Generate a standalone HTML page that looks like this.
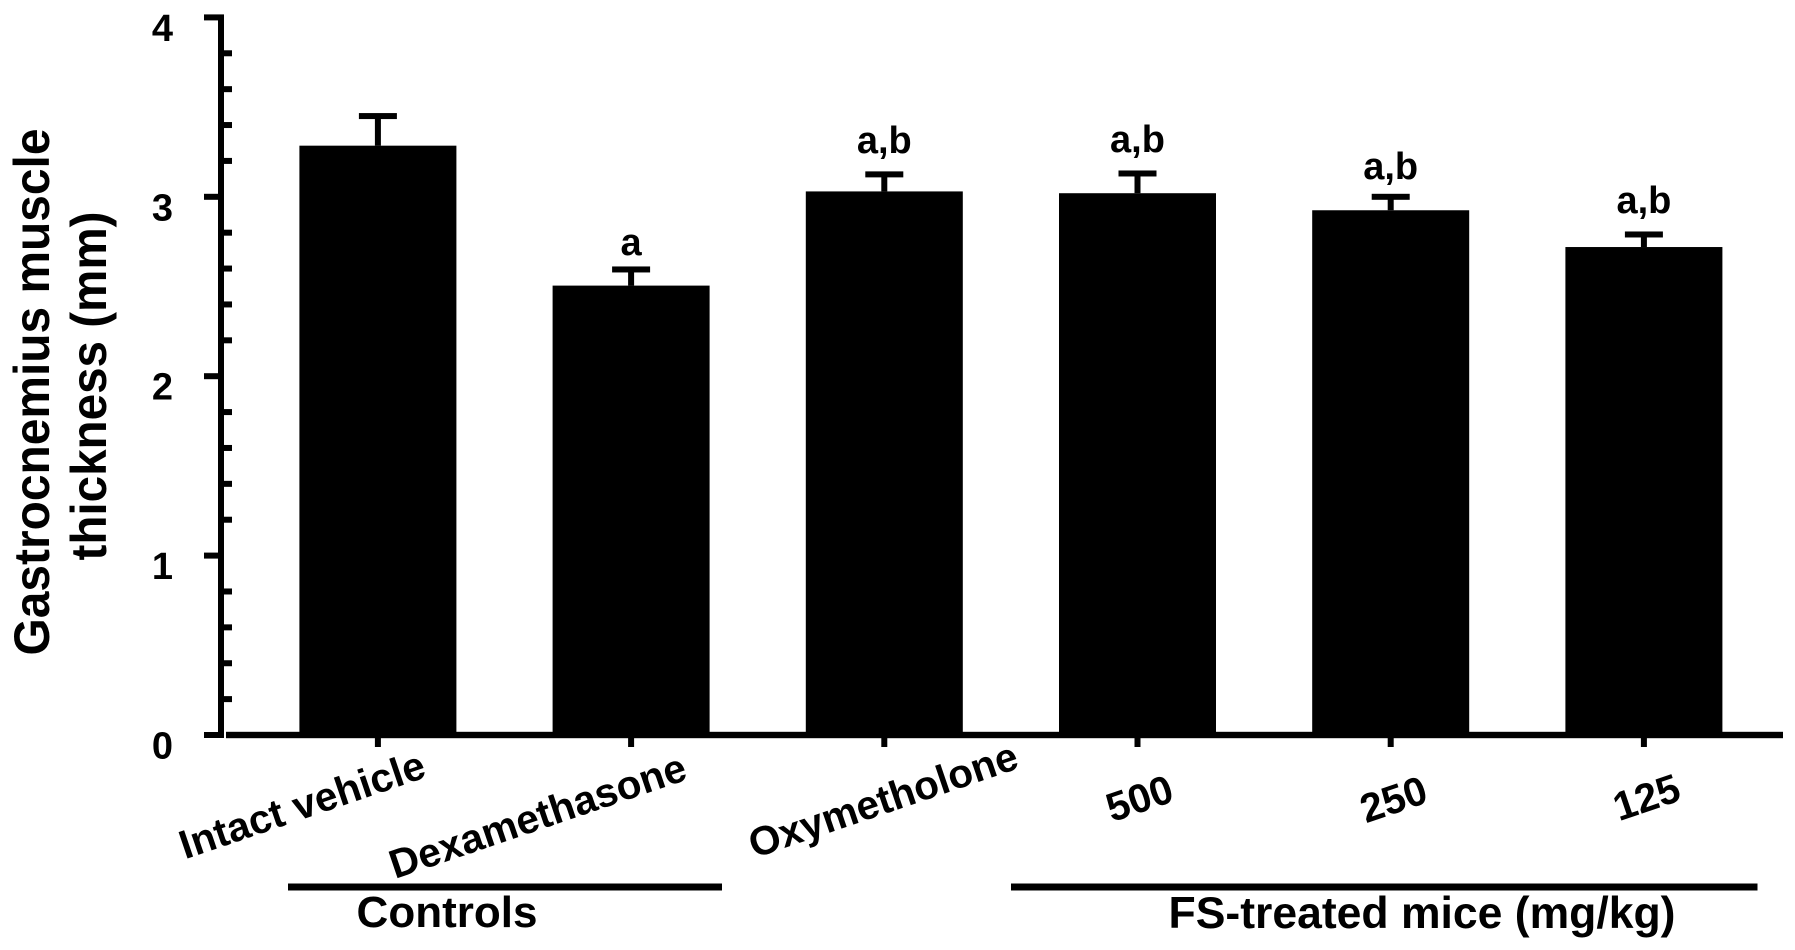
<!DOCTYPE html>
<html lang="en">
<head>
<meta charset="utf-8">
<title>Gastrocnemius muscle thickness</title>
<style>
  html, body { margin: 0; padding: 0; background: #fff; }
  body { width: 1795px; height: 950px; overflow: hidden; }
  svg { display: block; }
  text { font-family: "Liberation Sans", Arial, sans-serif; font-weight: 700; fill: #000; }
</style>
</head>
<body>
<svg id="chart" xmlns="http://www.w3.org/2000/svg" width="1795" height="950" viewBox="0 0 1795 950">
  <rect x="0" y="0" width="1795" height="950" fill="#fff"/>

  <g font-size="50">
    <text transform="translate(49,392) rotate(-90)" text-anchor="middle" textLength="527" lengthAdjust="spacingAndGlyphs">Gastrocnemius muscle</text>
    <text transform="translate(106,386) rotate(-90)" text-anchor="middle" textLength="349" lengthAdjust="spacingAndGlyphs">thickness (mm)</text>
  </g>

  <g id="bars"></g>
  <g id="errors"></g>
  <g id="annotations"></g>
  <g id="yaxis"></g>
  <g id="xaxis"></g>

  <g font-size="40.5" text-anchor="middle">
    <text transform="translate(306.5,818) rotate(-18.8)">Intact vehicle</text>
    <text transform="translate(542,829) rotate(-18.8)">Dexamethasone</text>
    <text transform="translate(887.5,813) rotate(-18.8)">Oxymetholone</text>
    <text transform="translate(1144,811.5) rotate(-18.8)">500</text>
    <text transform="translate(1398,812.5) rotate(-18.8)">250</text>
    <text transform="translate(1651,810.5) rotate(-18.8)">125</text>
  </g>

  <rect x="288" y="883.5" width="434" height="7" fill="#000"/>
  <rect x="1011" y="883.5" width="746.5" height="7" fill="#000"/>
  <text x="447" y="927" font-size="44" text-anchor="middle">Controls</text>
  <text x="1422" y="928" font-size="44.5" text-anchor="middle">FS-treated mice (mg/kg)</text>
</svg>

<script>
const categories = ["Intact vehicle", "Dexamethasone", "Oxymetholone", "500", "250", "125"];
const means = [3.285, 2.505, 3.03, 3.02, 2.925, 2.72];
const errors = [0.165, 0.09, 0.095, 0.11, 0.075, 0.07];
const annotations = ["", "a", "a,b", "a,b", "a,b", "a,b"];
const annotationGaps = [0, 0.08, 0.12, 0.12, 0.1, 0.12];
const yTicks = [0, 1, 2, 3, 4];
const yTickLabels = ["0", "1", "2", "3", "4"];
const minorPerMajor = 5;

const NS = "http://www.w3.org/2000/svg";
const Y0 = 735, UNIT = 179.4, X0 = 377.9, STEP = 253.2;
const BAR_W = 157, CAP_W = 38, CAP_H = 6, STEM_W = 6;
const yScale = v => Y0 - UNIT * v;
const xScale = i => X0 + STEP * i;

function rect(parent, x, y, w, h) {
  const r = document.createElementNS(NS, "rect");
  r.setAttribute("x", x);
  r.setAttribute("y", y);
  r.setAttribute("width", w);
  r.setAttribute("height", h);
  r.setAttribute("fill", "#000");
  parent.appendChild(r);
  return r;
}

function label(parent, x, y, size, str) {
  const t = document.createElementNS(NS, "text");
  t.setAttribute("x", x);
  t.setAttribute("y", y);
  t.setAttribute("font-size", size);
  t.setAttribute("text-anchor", "middle");
  t.textContent = str;
  parent.appendChild(t);
  return t;
}

const barsG = document.getElementById("bars");
const errG = document.getElementById("errors");
const annG = document.getElementById("annotations");
const yG = document.getElementById("yaxis");
const xG = document.getElementById("xaxis");

categories.forEach((cat, i) => {
  const cx = xScale(i);
  const top = yScale(means[i]);
  const capV = means[i] + errors[i];
  const capY = yScale(capV);

  const bar = rect(barsG, cx - BAR_W / 2, top, BAR_W, Y0 - top);
  
  

  const stem = rect(errG, cx - STEM_W / 2, capY, STEM_W, top - capY);
  
  

  const cap = rect(errG, cx - CAP_W / 2, capY - CAP_H / 2, CAP_W, CAP_H);
  
  

  if (annotations[i]) {
    const ann = label(annG, cx, yScale(capV + annotationGaps[i]), 38, annotations[i]);
    
    
  }

  const tick = rect(xG, cx - 3, Y0, 6, 12);
  
  
});

const baseline = rect(xG, 226, Y0 - 3.2, 1557, 6.4);



const maxTick = yTicks[yTicks.length - 1];
const axisLine = rect(yG, 218, yScale(maxTick) - 3, 6, yScale(0) - yScale(maxTick) + 6);



yTicks.forEach((v, i) => {
  const y = yScale(v);
  const major = rect(yG, 204, y - 3, 14, 6);
  
  

  const txt = label(yG, 162.5, y + 23.5, 38, yTickLabels[i]);
  
  

  if (i < yTicks.length - 1) {
    for (let k = 1; k < minorPerMajor; k++) {
      const mv = v + (yTicks[i + 1] - v) * k / minorPerMajor;
      const minor = rect(yG, 224, yScale(mv) - 3, 8, 6);
      
      
    }
  }
});
</script>
</body>
</html>
